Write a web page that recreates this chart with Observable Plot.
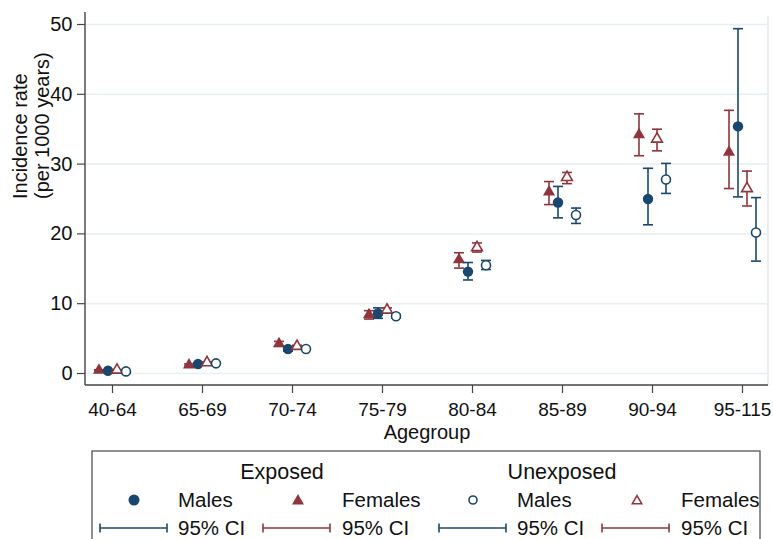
<!DOCTYPE html>
<html><head><meta charset="utf-8">
<script src="https://cdn.jsdelivr.net/npm/d3@7"></script>
<script src="https://cdn.jsdelivr.net/npm/@observablehq/plot@0.6"></script>
<style>
body{margin:0;background:#fff;font-family:"Liberation Sans",Arial,sans-serif;}
#wrap{position:relative;width:773px;height:539px;overflow:hidden;background:#fff;}
#legend{position:absolute;left:0;top:0;pointer-events:none;}
</style></head>
<body><div id="wrap"><div id="chart"></div><svg id="legend" width="773" height="539"></svg></div>
<script>
// ---- data ----
const ageGroups = ["40-64","65-69","70-74","75-79","80-84","85-89","90-94","95-115"];

const exposedFemales   = [0.45, 1.2, 4.25, 8.4, 16.3, 26.0, 34.2, 31.7];
const exposedFemalesLo = [0.38, 1.05, 3.9, 7.8, 15.1, 24.2, 31.2, 26.5];
const exposedFemalesHi = [0.53, 1.37, 4.6, 9.0, 17.3, 27.5, 37.2, 37.7];

const exposedMales   = [0.4, 1.35, 3.5, 8.6, 14.6, 24.5, 25.0, 35.4];
const exposedMalesLo = [0.34, 1.18, 3.2, 7.9, 13.4, 22.3, 21.3, 25.3];
const exposedMalesHi = [0.47, 1.53, 3.85, 9.4, 15.9, 26.8, 29.4, 49.4];

const unexposedFemales   = [0.5, 1.55, 3.9, 9.1, 18.05, 28.1, 33.6, 26.5];
const unexposedFemalesLo = [0.45, 1.45, 3.75, 8.8, 17.4, 27.2, 31.9, 24.0];
const unexposedFemalesHi = [0.55, 1.65, 4.05, 9.4, 18.7, 28.8, 35.0, 29.0];

const unexposedMales   = [0.3, 1.45, 3.5, 8.2, 15.5, 22.7, 27.8, 20.2];
const unexposedMalesLo = [0.26, 1.36, 3.37, 7.95, 14.9, 21.5, 25.8, 16.1];
const unexposedMalesHi = [0.34, 1.55, 3.63, 8.45, 16.2, 23.7, 30.1, 25.2];

const yTicks = [0, 10, 20, 30, 40, 50];
const yTitle = "Incidence rate\n(per 1000 years)";
const xTitle = "Agegroup";
const legendGroups = ["Exposed", "Unexposed"];
const legendSeries = ["Males", "Females"];
const ciLabel = "95% CI";

// ---- styling ----
const navy = "#1a476f", maroon = "#90353b";
const hline = {draw(ctx, size){ const r = Math.sqrt(size/Math.PI); ctx.moveTo(-r,0); ctx.lineTo(r,0); }};

function rows(v, lo, hi){ return ageGroups.map((a,i)=>({age:a, value:v[i], lo:lo[i], hi:hi[i]})); }

function seriesMarks(data, color, symbol, filled, dx, r){
  return [
    Plot.ruleX(data, {x:"age", y1:"lo", y2:"hi", dx, stroke:color, strokeWidth:1.6}),
    Plot.dot(data, {x:"age", y:"lo", dx, symbol:hline, r:5, stroke:color, strokeWidth:1.6}),
    Plot.dot(data, {x:"age", y:"hi", dx, symbol:hline, r:5, stroke:color, strokeWidth:1.6}),
    filled
      ? Plot.dot(data, {x:"age", y:"value", dx, symbol, r, fill:color, stroke:"none"})
      : Plot.dot(data, {x:"age", y:"value", dx, symbol, r, fill:"white", stroke:color, strokeWidth:1.6})
  ];
}

const W = 773, H = 445, mL = 85, mR = 5, mT = 12, mB = 60;

const chart = Plot.plot({
  width: W, height: H,
  marginLeft: mL, marginRight: mR, marginTop: mT, marginBottom: mB,
  style: {fontFamily: '"Liberation Sans", Arial, sans-serif', color: "#111", background: "white", overflow: "visible"},
  x: {type: "point", domain: ageGroups, padding: 0.294, align: 0.5},
  y: {domain: [-1.72, 51.72]},
  marks: [
    Plot.gridY(yTicks, {stroke: "#e6eff2", strokeOpacity: 1, strokeWidth: 1.5}),
    Plot.axisY(yTicks, {tickSize: 8, tickPadding: 5, fontSize: 20, label: null, stroke: "#444", strokeWidth: 1.2}),
    Plot.axisX({tickSize: 8, tickPadding: 9, fontSize: 19, label: null, stroke: "#444", strokeWidth: 1.2}),
    Plot.text([yTitle], {text: d => d, frameAnchor: "left", rotate: -90, dx: -37, lineAnchor: "bottom", fontSize: 20, lineHeight: 1.06}),
    Plot.text([xTitle], {text: d => d, frameAnchor: "bottom", dy: 53, lineAnchor: "bottom", fontSize: 20}),
    ...seriesMarks(rows(exposedFemales, exposedFemalesLo, exposedFemalesHi), maroon, "triangle", true, -13.5, 4.5),
    ...seriesMarks(rows(exposedMales, exposedMalesLo, exposedMalesHi), navy, "circle", true, -4.5, 5.2),
    ...seriesMarks(rows(unexposedFemales, unexposedFemalesLo, unexposedFemalesHi), maroon, "triangle", false, 4.5, 4.0),
    ...seriesMarks(rows(unexposedMales, unexposedMalesLo, unexposedMalesHi), navy, "circle", false, 13.5, 4.5)
  ]
});
document.getElementById("chart").appendChild(chart);

// axis lines and light plot-region edge
const s = d3.select(chart);
s.insert("line", ":first-child").attr("x1", W - mR).attr("x2", W - mR).attr("y1", 16).attr("y2", H - mB)
  .attr("stroke", "#e1e9ee").attr("stroke-width", 1.5);
s.append("line").attr("x1", mL).attr("x2", mL).attr("y1", mT).attr("y2", H - mB).attr("stroke", "#444").attr("stroke-width", 1.4);
s.append("line").attr("x1", mL).attr("x2", W - mR).attr("y1", H - mB).attr("y2", H - mB).attr("stroke", "#444").attr("stroke-width", 1.4);

// ---- legend ----
const L = d3.select("#legend").style("font-family", '"Liberation Sans", Arial, sans-serif');
L.append("rect").attr("x", 92).attr("y", 451).attr("width", 668).attr("height", 130)
  .attr("fill", "none").attr("stroke", "#555").attr("stroke-width", 1.3);
const groupX = [282, 562];
const colBase = [[134, 178, 298, 342], [473, 517, 637, 681]];
legendGroups.forEach((g, gi) => {
  L.append("text").attr("x", groupX[gi]).attr("y", 479).attr("text-anchor", "middle").attr("font-size", 21.5).attr("fill", "#111").text(g);
  const [mx1, tx1, mx2, tx2] = colBase[gi];
  const filled = gi === 0;
  L.append("path").attr("transform", `translate(${mx1},500)`)
    .attr("d", d3.symbol(d3.symbolCircle, filled ? Math.PI*5.5*5.5 : Math.PI*4*4)())
    .attr("fill", filled ? navy : "white").attr("stroke", filled ? "none" : navy).attr("stroke-width", 1.6);
  L.append("text").attr("x", tx1).attr("y", 507).attr("font-size", 20.5).attr("fill", "#111").text(legendSeries[0]);
  L.append("path").attr("transform", `translate(${mx2},501)`)
    .attr("d", d3.symbol(d3.symbolTriangle, filled ? 62 : 38)())
    .attr("fill", filled ? maroon : "white").attr("stroke", filled ? "none" : maroon).attr("stroke-width", 1.6);
  L.append("text").attr("x", tx2).attr("y", 507).attr("font-size", 20.5).attr("fill", "#111").text(legendSeries[1]);
  [[mx1 - 34, navy, tx1], [mx2 - 35, maroon, tx2]].forEach(([x0, c, tx]) => {
    const x1 = x0 + 67;
    L.append("line").attr("x1", x0).attr("x2", x1).attr("y1", 528).attr("y2", 528).attr("stroke", c).attr("stroke-width", 1.6);
    L.append("line").attr("x1", x0).attr("x2", x0).attr("y1", 523.5).attr("y2", 532.5).attr("stroke", c).attr("stroke-width", 1.6);
    L.append("line").attr("x1", x1).attr("x2", x1).attr("y1", 523.5).attr("y2", 532.5).attr("stroke", c).attr("stroke-width", 1.6);
    L.append("text").attr("x", tx).attr("y", 535).attr("font-size", 20.5).attr("fill", "#111").text(ciLabel);
  });
});
</script>
</body></html>
